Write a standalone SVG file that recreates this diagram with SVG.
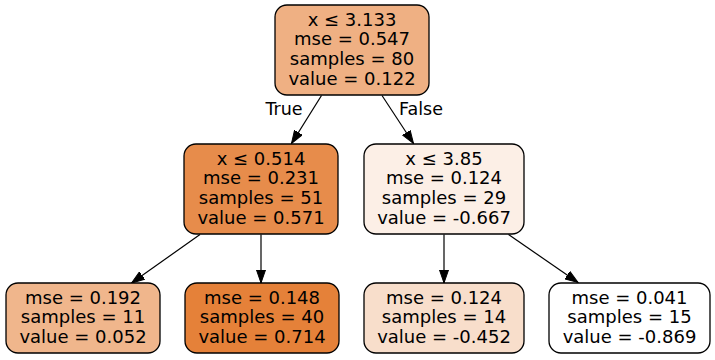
<svg xmlns="http://www.w3.org/2000/svg" width="715" height="360" viewBox="0 0 715 360">
<defs>
<style>
.box{stroke:#000;stroke-width:1.3}
.t{font-family:"DejaVu Sans",sans-serif;font-size:18px;fill:#000;text-anchor:middle}
.lbl{font-family:"DejaVu Sans",sans-serif;font-size:17.5px;fill:#000;text-anchor:middle}
.e{stroke:#000;stroke-width:1.2;fill:none;marker-end:url(#ah)}
</style>
<marker id="ah" markerUnits="userSpaceOnUse" markerWidth="14" markerHeight="10" refX="13" refY="5" orient="auto">
<path d="M0,0.5 L13,5 L0,9.5 z" fill="#000" stroke="#000" stroke-width="1"/>
</marker>
</defs>
<rect width="715" height="360" fill="#fff"/>
<g id="connectors">
<path class="e" d="M321.5,95.5 L291.5,143.5"/>
<path class="e" d="M382,95.5 L413.5,143.5"/>
<path class="e" d="M200,234.5 L131.5,283"/>
<path class="e" d="M261,234.5 L261,283"/>
<path class="e" d="M444,234.5 L444,283"/>
<path class="e" d="M508.5,234.5 L578,282.5"/>
<text class="lbl" x="284" y="115">True</text>
<text class="lbl" x="421" y="115">False</text>
</g>
<g id="node0">
<rect class="box" x="275" y="5" width="154" height="90" rx="12" fill="#efb083"/>
<text class="t" x="352" y="25.5">x ≤ 3.133</text>
<text class="t" x="352" y="45">mse = 0.547</text>
<text class="t" x="352" y="65">samples = 80</text>
<text class="t" x="352" y="84.5">value = 0.122</text>
</g>
<g id="node1">
<rect class="box" x="184" y="144" width="154" height="90" rx="12" fill="#e78c4b"/>
<text class="t" x="261" y="164.5">x ≤ 0.514</text>
<text class="t" x="261" y="184">mse = 0.231</text>
<text class="t" x="261" y="204">samples = 51</text>
<text class="t" x="261" y="223.5">value = 0.571</text>
</g>
<g id="node4">
<rect class="box" x="364" y="144" width="160" height="90" rx="12" fill="#fcefe6"/>
<text class="t" x="444" y="164.5">x ≤ 3.85</text>
<text class="t" x="444" y="184">mse = 0.124</text>
<text class="t" x="444" y="204">samples = 29</text>
<text class="t" x="444" y="223.5">value = -0.667</text>
</g>
<g id="node2">
<rect class="box" x="6" y="283" width="154" height="70" rx="12" fill="#f0b68c"/>
<text class="t" x="83" y="303.5">mse = 0.192</text>
<text class="t" x="83" y="323">samples = 11</text>
<text class="t" x="83" y="342.5">value = 0.052</text>
</g>
<g id="node3">
<rect class="box" x="185" y="283" width="154" height="70" rx="12" fill="#e58139"/>
<text class="t" x="262" y="303.5">mse = 0.148</text>
<text class="t" x="262" y="323">samples = 40</text>
<text class="t" x="262" y="342.5">value = 0.714</text>
</g>
<g id="node5">
<rect class="box" x="364" y="283" width="160" height="70" rx="12" fill="#f8decb"/>
<text class="t" x="444" y="303.5">mse = 0.124</text>
<text class="t" x="444" y="323">samples = 14</text>
<text class="t" x="444" y="342.5">value = -0.452</text>
</g>
<g id="node6">
<rect class="box" x="549" y="283" width="161" height="70" rx="12" fill="#ffffff"/>
<text class="t" x="629.5" y="303.5">mse = 0.041</text>
<text class="t" x="629.5" y="323">samples = 15</text>
<text class="t" x="629.5" y="342.5">value = -0.869</text>
</g>
</svg>
